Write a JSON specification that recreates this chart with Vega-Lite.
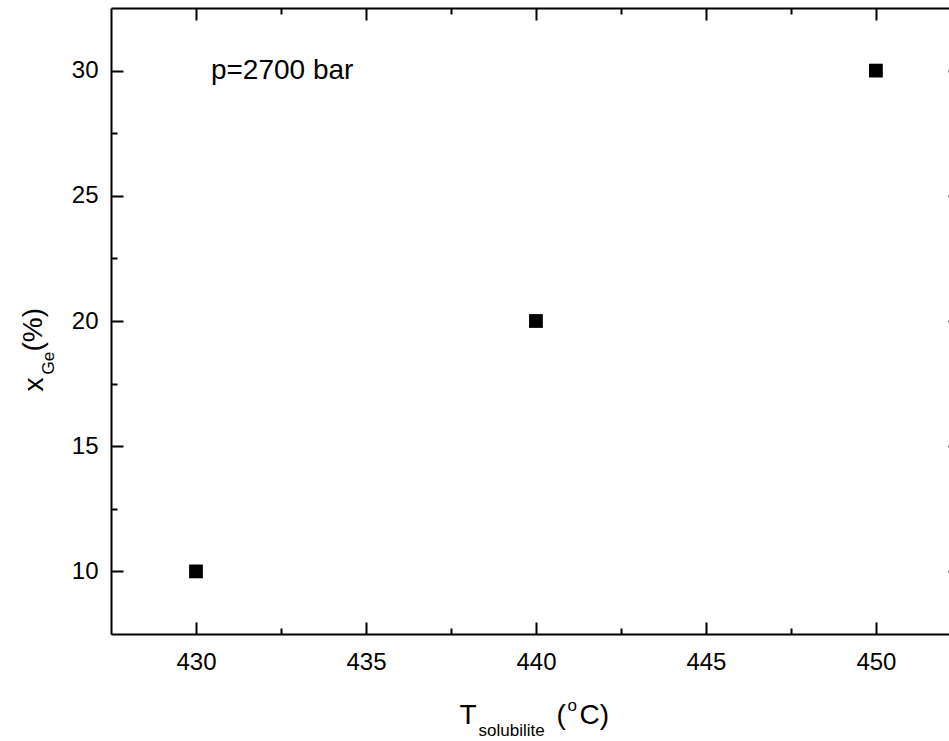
{
  "$schema": "https://vega.github.io/schema/vega-lite/v6.json",
  "width": 838,
  "height": 626,
  "autosize": {"type": "none"},
  "padding": {"left": 111, "top": 8, "right": 0, "bottom": 107},
  "background": "white",
  "config": {
    "view": {"stroke": null},
    "axis": {
      "grid": false,
      "domainColor": "#000000",
      "domainWidth": 2,
      "tickColor": "#000000",
      "tickWidth": 2,
      "labelFont": "Liberation Sans",
      "labelFontSize": 24,
      "labelColor": "#000000",
      "labelOverlap": false,
      "labelFlush": false,
      "titleFont": "Liberation Sans",
      "titleColor": "#000000",
      "titleFontWeight": "normal"
    }
  },
  "data": {"values": [
    {"T": 430, "xGe": 10},
    {"T": 440, "xGe": 20},
    {"T": 450, "xGe": 30}
  ]},
  "resolve": {"axis": {"x": "independent", "y": "independent"}},
  "layer": [
    {
      "mark": {"type": "point", "shape": "square", "filled": true, "color": "#000000", "size": 190, "opacity": 1},
      "encoding": {
        "x": {"field": "T", "type": "quantitative", "scale": {"domain": [427.5, 452.15], "nice": false, "zero": false},
          "axis": {"orient": "bottom", "values": [430, 435, 440, 445, 450], "format": "d", "tickSize": -12, "labelPadding": 28, "domain": true,
            "title": "T", "titleFontSize": 28, "titleX": 348, "titleY": 89, "titleAlign": "left", "titleBaseline": "alphabetic", "titleAngle": 0}},
        "y": {"field": "xGe", "type": "quantitative", "scale": {"domain": [7.5, 32.5], "nice": false, "zero": false},
          "axis": {"orient": "left", "values": [10, 15, 20, 25, 30], "format": "d", "tickSize": -12, "labelPadding": 25, "domain": true,
            "title": "x", "titleFontSize": 28, "titleAngle": -90, "titleX": -69, "titleY": 383, "titleAlign": "left", "titleBaseline": "alphabetic"}}
      }
    },
    {
      "mark": {"type": "point", "opacity": 0},
      "encoding": {
        "x": {"field": "T", "type": "quantitative", "scale": {"domain": [427.5, 452.15], "nice": false, "zero": false},
          "axis": {"orient": "bottom", "values": [432.5, 437.5, 442.5, 447.5], "tickSize": -6, "labels": false, "domain": false,
            "title": "solubilite", "titleFontSize": 17, "titleX": 367, "titleY": 101, "titleAlign": "left", "titleBaseline": "alphabetic", "titleAngle": 0}},
        "y": {"field": "xGe", "type": "quantitative", "scale": {"domain": [7.5, 32.5], "nice": false, "zero": false},
          "axis": {"orient": "left", "values": [12.5, 17.5, 22.5, 27.5], "tickSize": -6, "labels": false, "domain": false,
            "title": "Ge", "titleFontSize": 17, "titleAngle": -90, "titleX": -58, "titleY": 366, "titleAlign": "left", "titleBaseline": "alphabetic"}}
      }
    },
    {
      "mark": {"type": "point", "opacity": 0},
      "encoding": {
        "x": {"field": "T", "type": "quantitative", "scale": {"domain": [427.5, 452.15], "nice": false, "zero": false},
          "axis": {"orient": "top", "values": [430, 435, 440, 445, 450], "tickSize": -12, "labels": false, "domain": true,
            "title": "(", "titleFontSize": 28, "titleX": 445, "titleY": 715, "titleAlign": "left", "titleBaseline": "alphabetic", "titleAngle": 0}},
        "y": {"field": "xGe", "type": "quantitative", "scale": {"domain": [7.5, 32.5], "nice": false, "zero": false},
          "axis": {"orient": "left", "ticks": false, "labels": false, "domain": false,
            "title": "(%)", "titleFontSize": 28, "titleAngle": -90, "titleX": -70, "titleY": 343, "titleAlign": "left", "titleBaseline": "alphabetic"}}
      }
    },
    {
      "mark": {"type": "point", "opacity": 0},
      "encoding": {
        "x": {"field": "T", "type": "quantitative", "scale": {"domain": [427.5, 452.15], "nice": false, "zero": false},
          "axis": {"orient": "top", "values": [432.5, 437.5, 442.5, 447.5], "tickSize": -6, "labels": false, "domain": false,
            "title": "o", "titleFontSize": 17, "titleX": 456, "titleY": 702, "titleAlign": "left", "titleBaseline": "alphabetic", "titleAngle": 0}},
        "y": {"field": "xGe", "type": "quantitative", "scale": {"domain": [7.5, 32.5], "nice": false, "zero": false},
          "axis": {"orient": "right", "offset": 12, "values": [10, 15, 20, 25, 30], "tickSize": -13, "labels": false, "domain": true, "title": null}}
      }
    },
    {
      "data": {"values": [{"T": 430.44, "xGe": 29.68, "label": "p=2700 bar"}]},
      "mark": {"type": "text", "align": "left", "baseline": "alphabetic", "font": "Liberation Sans", "fontSize": 28, "color": "#000000"},
      "encoding": {
        "x": {"field": "T", "type": "quantitative", "scale": {"domain": [427.5, 452.15], "nice": false, "zero": false},
          "axis": {"orient": "bottom", "ticks": false, "labels": false, "domain": false,
            "title": "C)", "titleFontSize": 28, "titleX": 468, "titleY": 89, "titleAlign": "left", "titleBaseline": "alphabetic", "titleAngle": 0}},
        "y": {"field": "xGe", "type": "quantitative", "scale": {"domain": [7.5, 32.5], "nice": false, "zero": false}, "axis": null},
        "text": {"field": "label", "type": "nominal"}
      }
    }
  ]
}
